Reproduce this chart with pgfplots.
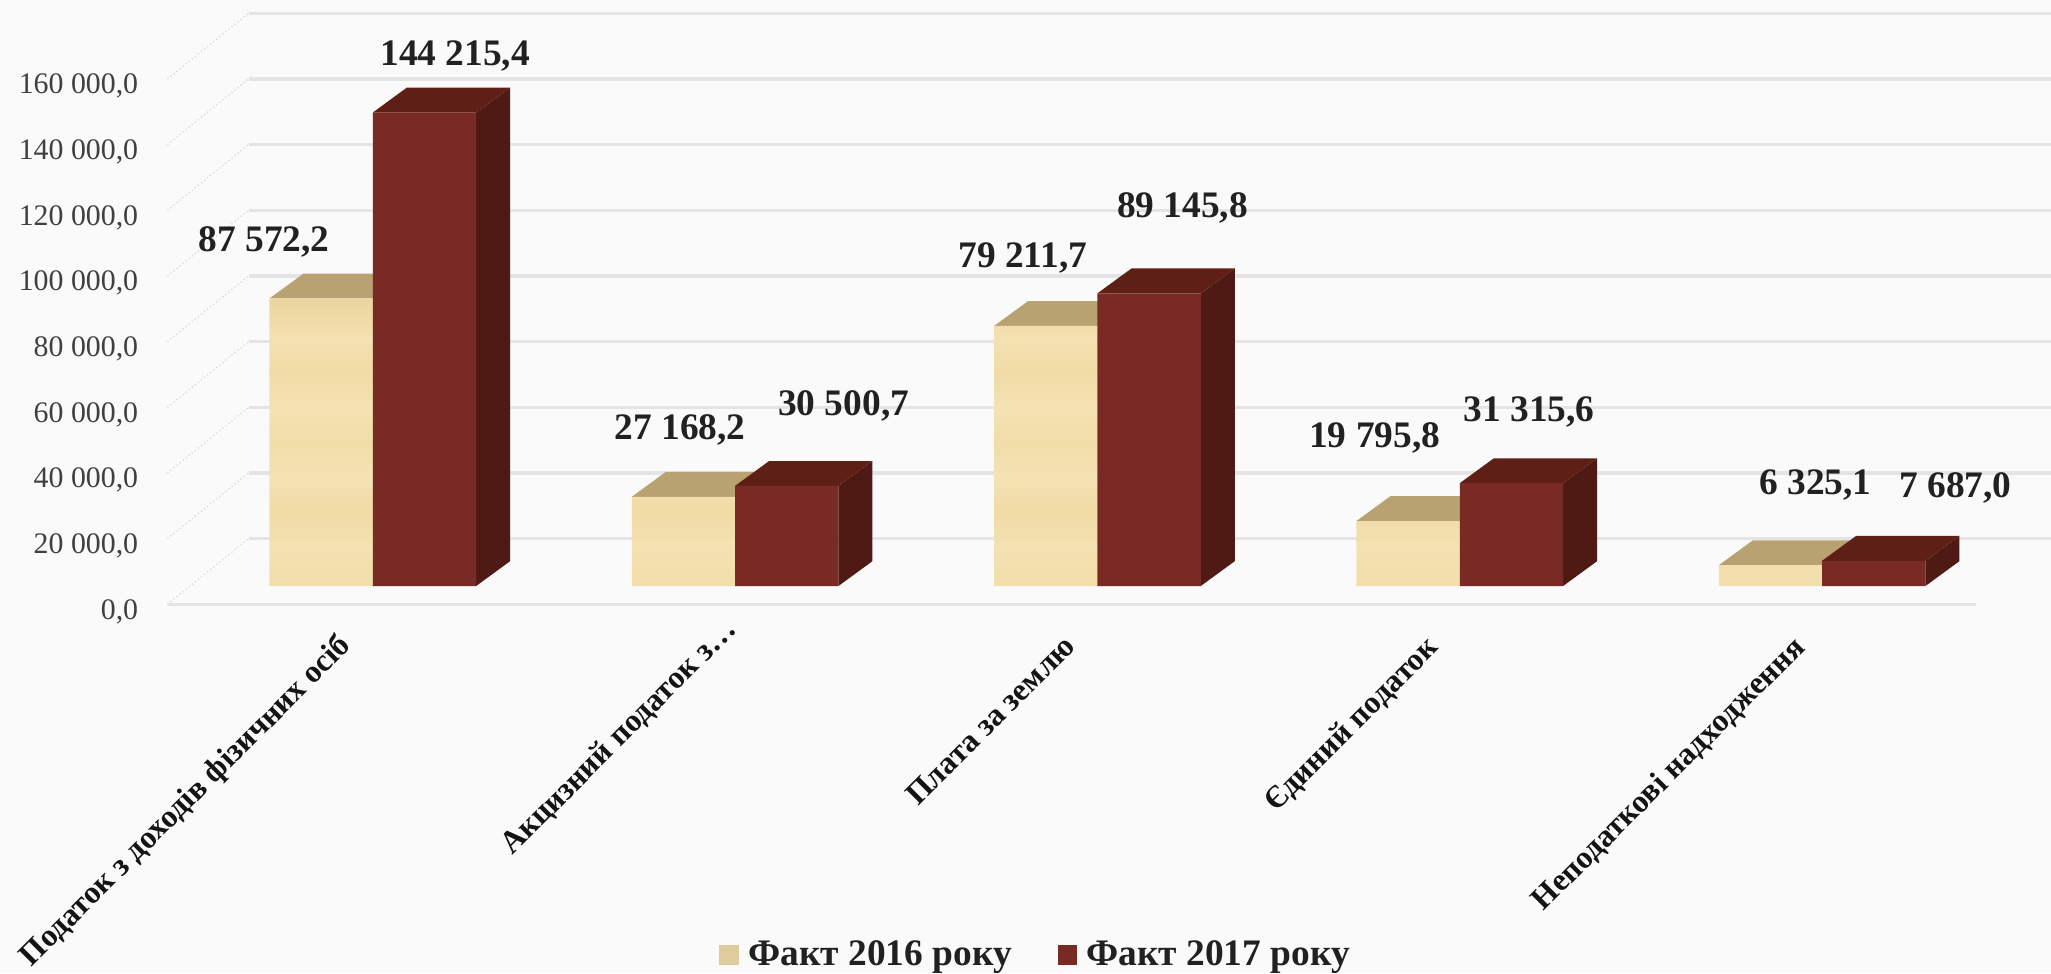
\documentclass[border=0pt]{standalone}
\usepackage{pgfplots}
\usepackage{pgfplotstable}
\usepackage{fontspec}
\setmainfont{Liberation Serif}
\pgfplotsset{compat=1.18}
\definecolor{bg}{HTML}{FAFAFA}
\definecolor{gridc}{HTML}{E4E4E4}
\definecolor{gridd}{HTML}{DADADA}
\definecolor{tanfront}{HTML}{F2DEAA}
\definecolor{tantop}{HTML}{B9A272}
\definecolor{redfront}{HTML}{7A2A25}
\definecolor{redtop}{HTML}{5E2016}
\definecolor{redside}{HTML}{4E1A13}
\definecolor{wa}{HTML}{F4E1B1}
\definecolor{wb}{HTML}{F0DBA5}
\definecolor{wc}{HTML}{F5E2B3}
\definecolor{wd}{HTML}{F1DDA8}
\definecolor{we}{HTML}{ECD69F}
\pgfdeclareverticalshading{wood}{100bp}{
 color(0bp)=(tanfront);
 color(25bp)=(tanfront);
 color(32bp)=(wa);
 color(38bp)=(wb);
 color(44bp)=(wc);
 color(50bp)=(wd);
 color(56bp)=(wc);
 color(62bp)=(wb);
 color(68bp)=(wa);
 color(74bp)=(we);
 color(100bp)=(we)}
\pgfplotstableread{
x v
245.5 87572.2
522.5 27168.2
799.5 79211.7
1076.5 19795.8
1353.5 6325.1
}\factA
\pgfplotstableread{
x v
324.5 144215.4
601.5 30500.7
878.5 89145.8
1155.5 31315.6
1432.5 7687.0
}\factB
% top face of a box: left x, value, colour
\newcommand{\topface}[3]{\addplot[fill=#3,draw=none,forget plot] table[row sep=\\,x expr=#1+\thisrow{a},y expr=#2+\thisrow{b}]{a b\\0 5578\\79 5578\\105 13148\\26 13148\\};}
% side face of a box: left x, value, colour
\newcommand{\sideface}[3]{\addplot[fill=#3,draw=none,forget plot] table[row sep=\\,x expr=#1+\thisrow{a},y expr=#2*\thisrow{f}+\thisrow{b}]{a f b\\79 0 5578\\79 1 5578\\105 1 13148\\105 0 13148\\};}
\newcommand{\dl}[3]{\node[font=\bfseries\fontsize{14.3}{14.3}\selectfont,text=black!87,inner sep=0pt,yshift=-1pt] at (axis cs:#1,#2) {#3};}
\begin{document}
\begin{tikzpicture}
\fill[bg] (-64pt,-141pt) rectangle (720pt,231pt);
\begin{axis}[
 at={(0pt,0pt)},anchor=origin,
 scale only axis,
 width=691pt,height=200.8pt,
 xmin=128,xmax=1510,ymin=0,ymax=160000,
 clip=false,
 axis line style={draw=none},
 major tick length=0pt,
 scaled y ticks=false,
 xtick={269,552,826,1103,1383},
 xticklabels={Податок з доходів фізичних осіб\hspace*{8.5pt},Акцизний податок з…,Плата за землю\hspace*{9.9pt},Єдиний податок\hspace*{9.9pt},Неподаткові надходження\hspace*{9.9pt}},
 x tick label style={rotate=45,anchor=north east,font=\bfseries\fontsize{12.1}{12.1}\selectfont,text=black!92,inner sep=1pt},
 xticklabel shift=2.5pt,
 ytick={0,20000,40000,60000,80000,100000,120000,140000,160000},
 yticklabels={{0,0},{20 000,0},{40 000,0},{60 000,0},{80 000,0},{100 000,0},{120 000,0},{140 000,0},{160 000,0}},
 y tick label style={font=\fontsize{11.4}{11.4}\selectfont,text=black!75,inner sep=0pt,yshift=-2.8pt},
 yticklabel shift=11pt,
 legend style={at={(axis cs:793,-106800)},anchor=center,draw=none,fill=none,legend columns=2,
  font=\bfseries\fontsize{14.3}{14.3}\selectfont,text=black!87,
  /tikz/every even column/.style={column sep=15.5pt}},
]
% floor edge, wall grid lines, diagonals
\pgfplotsinvokeforeach{0,20000,40000,60000,80000,100000,120000,140000,160000}{
 \addplot[gridd,densely dotted,line width=0.5pt,forget plot] table[row sep=\\,y expr=#1+\thisrow{b}]{x b\\128 0\\190 20000\\};
 \addplot[gridc,line width=1.3pt,forget plot] table[row sep=\\,y expr=#1+\thisrow{b}]{x b\\190 20000\\1568 20000\\};
}
\addplot[gridc,line width=1.3pt,forget plot] coordinates {(128,0) (1511,0)};
% tan boxes
\topface{206}{87572.2}{tantop}
\topface{483}{27168.2}{tantop}
\topface{760}{79211.7}{tantop}
\topface{1037}{19795.8}{tantop}
\topface{1314}{6325.1}{tantop}
\addplot[ybar,bar width=79,bar shift=0pt,draw=none,shading=wood,yshift=7pt,forget plot] table[x=x,y=v] {\factA};
% red boxes
\sideface{285}{144215.4}{redside}
\sideface{562}{30500.7}{redside}
\sideface{839}{89145.8}{redside}
\sideface{1116}{31315.6}{redside}
\sideface{1393}{7687.0}{redside}
\topface{285}{144215.4}{redtop}
\topface{562}{30500.7}{redtop}
\topface{839}{89145.8}{redtop}
\topface{1116}{31315.6}{redtop}
\topface{1393}{7687.0}{redtop}
\addplot[ybar,bar width=79,bar shift=0pt,draw=none,fill=redfront,yshift=7pt,forget plot] table[x=x,y=v] {\factB};
% data labels
\dl{348}{167729}{144 215,4}
\dl{202}{111155}{87 572,2}
\dl{520}{53785}{27 168,2}
\dl{645}{61355}{30 500,7}
\dl{782}{106375}{79 211,7}
\dl{904}{121514}{89 145,8}
\dl{1051}{51394}{19 795,8}
\dl{1169}{59363}{31 315,6}
\dl{1388}{37052}{6 325,1}
\dl{1495}{36255}{7 687,0}
\addlegendimage{area legend,draw=none,fill=tanfront,legend image code/.code={\fill[tanfront!92!black] (0pt,-3.7pt) rectangle (7.5pt,3.7pt);}}
\addlegendentry{\hspace{1.5pt}Факт 2016 року}
\addlegendimage{area legend,draw=none,fill=redfront,legend image code/.code={\fill[redfront] (0pt,-3.7pt) rectangle (7.5pt,3.7pt);}}
\addlegendentry{\hspace{1.5pt}Факт 2017 року}
\end{axis}
\pgfresetboundingbox
\path[use as bounding box] (-64pt,-141pt) rectangle (720pt,231pt);
\end{tikzpicture}
\end{document}
